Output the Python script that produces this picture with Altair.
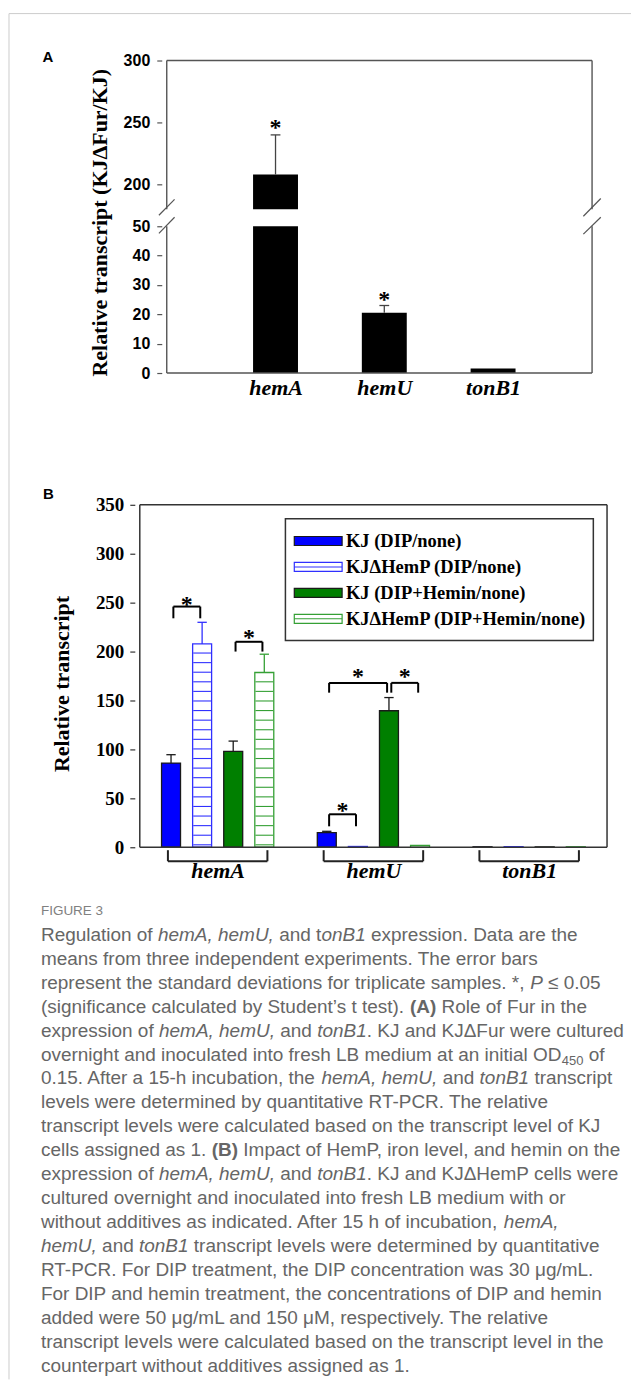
import altair as alt
import pandas as pd

# ---------------- Panel A data ----------------
genes_a = ["hemA", "hemU", "tonB1"]
pos_a = [1, 2, 3]
value_a = [208.0, 20.5, 1.5]
err_a = [32.0, 2.5, 0.0]
star_a = [249.0, 26.2, None]
ticks_a = [0, 10, 20, 30, 40, 50, 200, 250, 300]

# ---------------- Panel B data ----------------
genes_b = ["hemA", "hemU", "tonB1"]
series_b = ["KJ (DIP/none)", "KJΔHemP (DIP/none)", "KJ (DIP+Hemin/none)", "KJΔHemP (DIP+Hemin/none)"]
hatched_b = [0, 1, 0, 1]
kj_dip = [86.0, 15.0, 0.5]
kj_dip_err = [8.6, 1.3, 0.0]
hemp_dip = [207.8, 0.8, 0.6]
hemp_dip_err = [22.1, 0.0, 0.0]
kj_hemin = [98.0, 139.5, 0.4]
kj_hemin_err = [10.5, 13.5, 0.0]
hemp_hemin = [178.6, 2.0, 0.5]
hemp_hemin_err = [18.7, 0.0, 0.0]
ticks_b = [0, 50, 100, 150, 200, 250, 300, 350]

# significance brackets (gene index, bar from, bar to, top, leg end, star)
brk_gene = [0, 0, 1, 1, 1]
brk_from = [0, 2, 0, 0, 2]
brk_to = [1, 3, 1, 2, 3]
brk_top = [246.0, 210.0, 33.7, 168.0, 168.0]
brk_leg = [234.0, 200.0, 21.4, 158.0, 158.0]
brk_star = [252.0, 218.4, 40.8, 177.6, 177.6]

# ---------------- Caption text ----------------
caption_head = "FIGURE 3"
caption_lines = [
    [("r", "Regulation of "), ("i", "hemA, hemU,"), ("r", " and t"), ("i", "onB1"), ("r", " expression. Data are the")],
    [("r", "means from three independent experiments. The error bars")],
    [("r", "represent the standard deviations for triplicate samples. *, "), ("i", "P"), ("r", " ≤ 0.05")],
    [("r", "(significance calculated by Student’s t test). "), ("b", "(A)"), ("r", " Role of Fur in the")],
    [("r", "expression of "), ("i", "hemA, hemU,"), ("r", " and "), ("i", "tonB1"), ("r", ". KJ and KJΔFur were cultured")],
    [("r", "overnight and inoculated into fresh LB medium at an initial OD"), ("s", "450"), ("r", " of")],
    [("r", "0.15. After a 15-h incubation, the "), ("i", "hemA, hemU,"), ("r", " and "), ("i", "tonB1"), ("r", " transcript")],
    [("r", "levels were determined by quantitative RT-PCR. The relative")],
    [("r", "transcript levels were calculated based on the transcript level of KJ")],
    [("r", "cells assigned as 1. "), ("b", "(B)"), ("r", " Impact of HemP, iron level, and hemin on the")],
    [("r", "expression of "), ("i", "hemA, hemU,"), ("r", " and "), ("i", "tonB1"), ("r", ". KJ and KJΔHemP cells were")],
    [("r", "cultured overnight and inoculated into fresh LB medium with or")],
    [("r", "without additives as indicated. After 15 h of incubation, "), ("i", "hemA,")],
    [("i", "hemU,"), ("r", " and "), ("i", "tonB1"), ("r", " transcript levels were determined by quantitative")],
    [("r", "RT-PCR. For DIP treatment, the DIP concentration was 30 μg/mL.")],
    [("r", "For DIP and hemin treatment, the concentrations of DIP and hemin")],
    [("r", "added were 50 μg/mL and 150 μM, respectively. The relative")],
    [("r", "transcript levels were calculated based on the transcript level in the")],
    [("r", "counterpart without additives assigned as 1.")],
]

# ---------------- layout constants ----------------
WA, HA = 463, 313
WB, HB = 478, 343
SPACING = 132
CAP_SIZE = 19
SUB_SIZE = 13
CAP_COLOR = "#666666"
STEP = 0.1996
XMAX_A = 3.91

# Liberation Sans (Arial/Helvetica metrics) advance widths per 1000 em
_REG = {}
_REG.update(zip(" !\"#$%&'()*+,-./", [278, 278, 355, 556, 556, 889, 667, 191, 333, 333, 389, 584, 278, 333, 278, 278]))
_REG.update({d: 556 for d in "0123456789"})
_REG.update(zip(":;<=>?@", [278, 278, 584, 584, 584, 556, 1015]))
_REG.update(zip("ABCDEFGHIJKLMNOPQRSTUVWXYZ",
                [667, 667, 722, 722, 667, 611, 778, 722, 278, 500, 667, 556, 833, 722, 778, 667, 778, 722, 667, 611, 722, 667, 944, 667, 667, 611]))
_REG.update(zip("abcdefghijklmnopqrstuvwxyz",
                [556, 556, 500, 556, 556, 278, 556, 556, 222, 222, 500, 222, 833, 556, 556, 556, 556, 333, 500, 278, 556, 500, 722, 500, 500, 500]))
_REG.update({"’": 222, "Δ": 668, "μ": 576, "≤": 584})
_BOLD = {"A": 722, "B": 722}


def text_width(s, style):
    size = SUB_SIZE if style == "s" else CAP_SIZE
    tot = 0
    for ch in s:
        w = _REG.get(ch, 556)
        if style == "b":
            w = _BOLD.get(ch, w)
        tot += w
    return tot * size / 1000.0


one = pd.DataFrame({"k": [0]})

# ======================= PANEL A =======================
x_a = alt.Scale(domain=[0, XMAX_A], range=[27, WA], nice=False, zero=False)
y_a = alt.Scale(domain=[0, 50, 180, 300], range=[HA, 166, 149, 0], nice=False, zero=False)
dfA = pd.DataFrame({"gene": genes_a, "pos": pos_a, "value": value_a, "err": err_a, "star": star_a})
baseA = alt.Chart(dfA)

label_expr_a = "[" + ",".join(["''"] + [f"'{g}'" for g in genes_a]) + "][datum.value]"
ax_xa = alt.Axis(values=pos_a, labelExpr=label_expr_a, domain=False, ticks=False, tickSize=0, grid=False,
                 labelFont="Liberation Serif", labelFontWeight="bold", labelFontStyle="italic", labelFontSize=22,
                 labelColor="black", labelPadding=15, labelBaseline="middle", labelOverlap=False, title=None)
ax_ya = alt.Axis(values=ticks_a, tickCount=len(ticks_a) + 5, offset=-27, domain=False, grid=False, tickSize=5,
                 tickColor="#555555", tickWidth=1.2,
                 labelFont="Liberation Sans", labelFontWeight="bold", labelFontSize=16, labelColor="black",
                 labelPadding=7, labelOverlap=False, title="Relative transcript (KJΔFur/KJ)",
                 titleFont="Liberation Serif", titleFontWeight="bold", titleFontSize=22, titleColor="black",
                 titleX=-62, titleY=162, titleAlign="center", titleBaseline="middle")

bar_lo = baseA.transform_calculate(top="min(datum.value, 50)").mark_bar(
    orient="vertical", size=45, color="black").encode(
    x=alt.X("pos:Q", scale=x_a, axis=ax_xa),
    y=alt.Y("top:Q", scale=y_a, axis=ax_ya),
    y2=alt.datum(0))
bar_hi = baseA.transform_filter("datum.value > 180").mark_bar(
    orient="vertical", size=45, color="black").encode(
    x="pos:Q", y="value:Q", y2=alt.datum(180))

errA = baseA.transform_filter("datum.err > 0").transform_calculate(
    top="datum.value + datum.err", c1="datum.pos - 0.045", c2="datum.pos + 0.045")
err_line_a = errA.mark_rule(color="#444444", strokeWidth=1.3).encode(x="pos:Q", y="value:Q", y2="top:Q")
err_cap_a = errA.mark_rule(color="#444444", strokeWidth=1.3).encode(x="c1:Q", x2="c2:Q", y="top:Q")

stars_a = baseA.transform_filter("isValid(datum.star)").mark_text(
    text="*", font="Liberation Serif", fontWeight="bold", fontSize=24, baseline="alphabetic", dy=11,
    color="black").encode(x="pos:Q", y="star:Q")

seg_a = pd.DataFrame({
    "x1": [0, 0, XMAX_A, XMAX_A, 0, 0],
    "x2": [0, 0, XMAX_A, XMAX_A, XMAX_A, XMAX_A],
    "y1": [0, 180, 0, 180, 300, 0],
    "y2": [50, 300, 50, 300, 300, 0],
})
borders_a = alt.Chart(seg_a).mark_rule(color="#555555", strokeWidth=1.4).encode(
    x="x1:Q", x2="x2:Q", y="y1:Q", y2="y2:Q")
slash_a = pd.DataFrame({
    "x1": [-0.072, -0.072, XMAX_A - 0.08, XMAX_A - 0.08],
    "x2": [0.072, 0.072, XMAX_A + 0.08, XMAX_A + 0.08],
    "y1": [134, 47.6, 126.5, 47.3],
    "y2": [188, 119, 188.7, 118.8],
})
slashes_a = alt.Chart(slash_a).mark_rule(color="#555555", strokeWidth=1.2).encode(
    x="x1:Q", x2="x2:Q", y="y1:Q", y2="y2:Q")

frame_v = alt.Chart(one).mark_rule(color="#cccccc", strokeWidth=1).encode(
    x=alt.value(-126), y=alt.value(-47), y2=alt.value(1321))
frame_h = alt.Chart(one).mark_rule(color="#cccccc", strokeWidth=1).encode(
    x=alt.value(-126), x2=alt.value(497), y=alt.value(-47))
letter_a = alt.Chart(one).mark_text(text="A", font="Liberation Sans", fontWeight="bold", fontSize=15,
                                    align="center", baseline="alphabetic", color="black").encode(
    x=alt.value(-87), y=alt.value(1))

panelA = alt.layer(bar_lo, bar_hi, err_line_a, err_cap_a, stars_a, borders_a, slashes_a,
                   frame_v, frame_h, letter_a).properties(width=WA, height=HA)

# ======================= PANEL B =======================
vals = [kj_dip, hemp_dip, kj_hemin, hemp_hemin]
errs = [kj_dip_err, hemp_dip_err, kj_hemin_err, hemp_hemin_err]
rows = []
for gi, g in enumerate(genes_b):
    for si, s in enumerate(series_b):
        rows.append(dict(gene=g, gi=gi, series=s, si=si, hatched=hatched_b[si],
                         value=vals[si][gi], err=errs[si][gi]))
dfB = pd.DataFrame(rows)
baseB = alt.Chart(dfB).transform_calculate(pos=f"datum.gi + (datum.si - 1.5) * {STEP}")

x_b = alt.Scale(domain=[-0.5, 2.5], nice=False, zero=False)
y_b = alt.Scale(domain=[0, 350], nice=False, zero=False)
fill_b = alt.Scale(domain=series_b, range=["#0000ff", "#ffffff", "#007f00", "#ffffff"])
stroke_b = alt.Scale(domain=series_b, range=["#1a1a1a", "#3030ff", "#1a1a1a", "#35a035"])

label_expr_b = "[" + ",".join([f"'{g}'" for g in genes_b]) + "][datum.value]"
ax_xb = alt.Axis(values=list(range(len(genes_b))), labelExpr=label_expr_b, domain=False, ticks=False,
                 tickSize=0, grid=False, labelFont="Liberation Serif", labelFontWeight="bold",
                 labelFontStyle="italic", labelFontSize=22, labelColor="black", labelPadding=23,
                 labelBaseline="middle", labelOverlap=False, title=None)
ax_yb = alt.Axis(values=ticks_b, tickCount=len(ticks_b) + 5, domain=False, grid=False, tickSize=5,
                 tickColor="#333333", tickWidth=1.2,
                 labelFont="Liberation Serif", labelFontWeight="bold", labelFontSize=19, labelColor="black",
                 labelPadding=6, labelOverlap=False, title="Relative transcript", titleFont="Liberation Serif",
                 titleFontWeight="bold", titleFontSize=22, titleColor="black", titleX=-73, titleY=179,
                 titleAlign="center", titleBaseline="middle")

bars_b = baseB.mark_bar(orient="vertical", size=19, strokeWidth=1.3).encode(
    x=alt.X("pos:Q", scale=x_b, axis=ax_xb),
    y=alt.Y("value:Q", scale=y_b, axis=ax_yb, stack=None),
    y2=alt.datum(0),
    fill=alt.Fill("series:N", scale=fill_b, legend=None),
    stroke=alt.Stroke("series:N", scale=stroke_b, legend=None))

stripes_b = baseB.transform_filter("datum.hatched == 1").transform_calculate(
    yy="sequence(2.5, datum.value, 9.8)").transform_flatten(["yy"]).transform_calculate(
    x1="datum.pos - 0.057", x2="datum.pos + 0.057").mark_rule(strokeWidth=1.1).encode(
    x="x1:Q", x2="x2:Q", y="yy:Q", stroke=alt.Stroke("series:N", scale=stroke_b, legend=None))

errB = baseB.transform_filter("datum.err > 0").transform_calculate(
    top="datum.value + datum.err", c1="datum.pos - 0.03", c2="datum.pos + 0.03")
err_line_b = errB.mark_rule(strokeWidth=1.3).encode(
    x="pos:Q", y="value:Q", y2="top:Q", stroke=alt.Stroke("series:N", scale=stroke_b, legend=None))
err_cap_b = errB.mark_rule(strokeWidth=1.3).encode(
    x="c1:Q", x2="c2:Q", y="top:Q", stroke=alt.Stroke("series:N", scale=stroke_b, legend=None))

dfS = pd.DataFrame(dict(gi=brk_gene, a=brk_from, b=brk_to, top=brk_top, leg=brk_leg, star=brk_star))
baseS = alt.Chart(dfS).transform_calculate(
    xa=f"datum.gi + (datum.a - 1.5) * {STEP} + 0.015",
    xb=f"datum.gi + (datum.b - 1.5) * {STEP} - 0.012").transform_calculate(
    xm="(datum.xa + datum.xb) / 2")
sig_h = baseS.mark_rule(color="black", strokeWidth=2).encode(x="xa:Q", x2="xb:Q", y="top:Q")
sig_l = baseS.mark_rule(color="black", strokeWidth=2).encode(x="xa:Q", y="top:Q", y2="leg:Q")
sig_r = baseS.mark_rule(color="black", strokeWidth=2).encode(x="xb:Q", y="top:Q", y2="leg:Q")
sig_star = baseS.mark_text(text="*", font="Liberation Serif", fontWeight="bold", fontSize=24,
                           baseline="alphabetic", dy=11, color="black").encode(x="xm:Q", y="star:Q")

dfG = pd.DataFrame(dict(gi=list(range(len(genes_b)))))
baseG = alt.Chart(dfG).transform_calculate(
    xa=f"datum.gi - 1.5 * {STEP} - 0.02", xb=f"datum.gi + 1.5 * {STEP} + 0.02", yt="-3", yb="-14.3")
grp_h = baseG.mark_rule(color="#222222", strokeWidth=2).encode(x="xa:Q", x2="xb:Q", y="yb:Q")
grp_l = baseG.mark_rule(color="#222222", strokeWidth=2).encode(x="xa:Q", y="yt:Q", y2="yb:Q")
grp_r = baseG.mark_rule(color="#222222", strokeWidth=2).encode(x="xb:Q", y="yt:Q", y2="yb:Q")

# legend
dfL = pd.DataFrame(dict(series=series_b, row=list(range(len(series_b))), hatched=hatched_b))
baseL = alt.Chart(dfL).transform_calculate(
    yy="313 - datum.row * 26.5", x1="0.492", x2="0.799", tx="0.824").transform_calculate(
    yt="datum.yy + 4.6", yb="datum.yy - 4.6")
leg_box = alt.Chart(one).mark_rect(fill="white", stroke="#333333", strokeWidth=1.5).encode(
    x=alt.datum(0.435), x2=alt.datum(2.412), y=alt.datum(335.7), y2=alt.datum(211.2))
leg_sw = baseL.mark_rect(strokeWidth=1.2).encode(
    x="x1:Q", x2="x2:Q", y="yt:Q", y2="yb:Q",
    fill=alt.Fill("series:N", scale=fill_b, legend=None),
    stroke=alt.Stroke("series:N", scale=stroke_b, legend=None))
leg_mid = baseL.transform_filter("datum.hatched == 1").mark_rule(strokeWidth=1.1).encode(
    x="x1:Q", x2="x2:Q", y="yy:Q", stroke=alt.Stroke("series:N", scale=stroke_b, legend=None))
leg_txt = baseL.mark_text(align="left", baseline="middle", font="Liberation Serif", fontWeight="bold",
                          fontSize=18.5, color="black").encode(x="tx:Q", y="yy:Q", text="series:N")

seg_b = pd.DataFrame({"x1": [-0.5, 2.5, -0.5, -0.5], "x2": [-0.5, 2.5, 2.5, 2.5],
                      "y1": [0, 0, 350, 0], "y2": [350, 350, 350, 0]})
borders_b = alt.Chart(seg_b).mark_rule(color="#333333", strokeWidth=1.5).encode(
    x="x1:Q", x2="x2:Q", y="y1:Q", y2="y2:Q")
letter_b = alt.Chart(one).mark_text(text="B", font="Liberation Sans", fontWeight="bold", fontSize=15,
                                    align="center", baseline="alphabetic", color="black").encode(
    x=alt.value(-86.5), y=alt.value(-5.7))

panelB = alt.layer(bars_b, stripes_b, err_line_b, err_cap_b, sig_h, sig_l, sig_r, sig_star,
                   grp_h, grp_l, grp_r, leg_box, leg_sw, leg_mid, leg_txt, borders_b,
                   letter_b).properties(width=WB, height=HB)

# ======================= CAPTION =======================
CAP_X = -94
cap_rows = []
for li, segs in enumerate(caption_lines):
    cursor = 0.0
    for style, txt in segs:
        stripped = txt.lstrip(" ")
        lead = text_width(txt[: len(txt) - len(stripped)], style)
        cap_rows.append(dict(line=li, x=CAP_X + cursor + lead, text=stripped.rstrip(" "), style=style))
        cursor += text_width(txt, style)
dfC = pd.DataFrame(cap_rows)
cap_origin = 59 + HA + SPACING + HB + SPACING
y0 = 940.5 - cap_origin
y_c = alt.Scale(domain=[0, len(caption_lines) - 1],
                range=[y0, y0 + 24.02 * (len(caption_lines) - 1)], nice=False, zero=False)


def cap_layer(style, **kw):
    return alt.Chart(dfC).transform_filter(f"datum.style == '{style}'").mark_text(
        align="left", baseline="alphabetic", font="Liberation Sans", color=CAP_COLOR, **kw).encode(
        x=alt.X("x:Q", scale=None, axis=None),
        y=alt.Y("line:Q", scale=y_c, axis=None),
        text="text:N")


cap_r = cap_layer("r", fontSize=CAP_SIZE)
cap_i = cap_layer("i", fontSize=CAP_SIZE, fontStyle="italic")
cap_b = cap_layer("b", fontSize=CAP_SIZE, fontWeight="bold")
cap_s = cap_layer("s", fontSize=SUB_SIZE, dy=4)
cap_head = alt.Chart(one).mark_text(text=caption_head, font="Liberation Sans", fontSize=13.5, align="left",
                                    baseline="alphabetic", color="#808080").encode(
    x=alt.value(CAP_X), y=alt.value(915 - cap_origin))

caption = alt.layer(cap_r, cap_i, cap_b, cap_s, cap_head).properties(width=WB, height=395)

chart = alt.vconcat(panelA, panelB, caption, spacing=SPACING, bounds="flush").properties(
    padding={"left": 0, "top": 3.5, "right": 0, "bottom": 0}
).configure_view(strokeWidth=0).configure_axis(grid=False)

chart.save("out.html", embed_options={"renderer": "svg", "actions": False})
